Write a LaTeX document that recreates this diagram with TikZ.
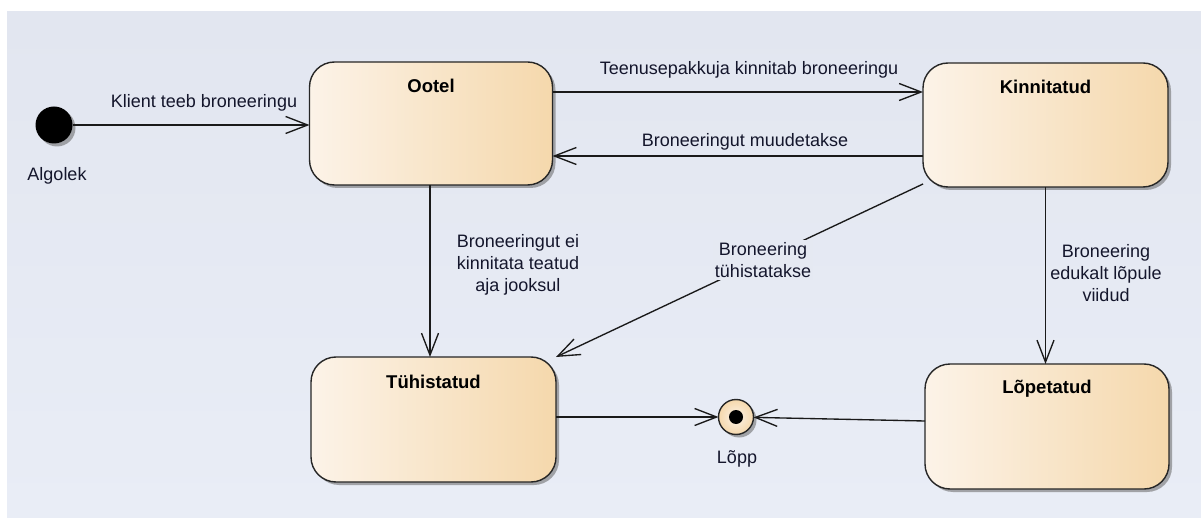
\documentclass[tikz,border=0pt]{standalone}
\usepackage{fontspec}
\setmainfont{Liberation Sans}
\usetikzlibrary{arrows.meta,shadows}
\definecolor{panelTop}{HTML}{E2E6F0}
\definecolor{panelBot}{HTML}{E9EDF6}
\definecolor{stateL}{HTML}{FCF3E8}
\definecolor{stateR}{HTML}{F5D8AC}
\definecolor{ink}{HTML}{14162C}
\definecolor{wire}{HTML}{1A1A1A}

\begin{document}
\begin{tikzpicture}[x=1pt,y=-1pt,
  font=\fontsize{18}{22}\selectfont,
  shade/.style={drop shadow={shadow xshift=3pt,shadow yshift=-3pt,fill=black!60,opacity=0.55}},
  state/.style={draw=black!85, line width=1.4pt, rounded corners=25pt,
    left color=stateL, right color=stateR, inner sep=0pt, outer sep=0pt, shade},
  title/.style={font=\fontsize{18.5}{22}\selectfont\bfseries, text=black},
  lbl/.style={text=ink, align=center, inner sep=0pt},
  tr/.style={draw=wire, line width=1.35pt,
    -{Straight Barb[length=22pt,width=17pt,line width=1.35pt]}},
]
\useasboundingbox (0,0) rectangle (1201,518);
\fill[white] (0,0) rectangle (1201,518);
\shade[top color=panelTop,bottom color=panelBot] (7,12) rectangle (1202,519);

% pseudo states
\node[circle, fill=black, minimum size=37pt, inner sep=0pt, outer sep=0pt, shade] (i) at (54,125) {};
\node[lbl] (il) at (57,176) {Algolek};

\node[circle, draw=black!85, line width=1.4pt, minimum size=35pt, inner sep=0pt, outer sep=0pt,
  inner color=stateL, outer color=stateR, shade] (e) at (736,417) {};
\node[circle, fill=black, minimum size=14pt, inner sep=0pt] (ed) at (e) {};
\node[lbl] (el) at (737,459) {Lõpp};

% states
\node[state, minimum width=243pt, minimum height=123pt] (o) at (431,123.5) {};
\node[title] at ([yshift=-24pt]o.north) {Ootel};
\node[state, minimum width=245pt, minimum height=124pt] (k) at (1045.5,125) {};
\node[title] at ([yshift=-24pt]k.north) {Kinnitatud};
\node[state, minimum width=245pt, minimum height=125pt] (t) at (433.5,419.5) {};
\node[title] at ([yshift=-25pt]t.north) {Tühistatud};
\node[state, minimum width=244pt, minimum height=125pt] (l) at (1047,426.5) {};
\node[title] at ([yshift=-25pt]l.north) {Lõpetatud};

% transitions
\draw[tr] (i) -- (o.west |- i);
\node[lbl] at (204,103) {Klient teeb broneeringu};

\draw[tr] (o.east |- 0,92) -- (k.west |- 0,92);
\node[lbl] at (749,70) {Teenusepakkuja kinnitab broneeringu};

\draw[tr] (k.west |- 0,156) -- (o.east |- 0,156);
\node[lbl] at (745,142) {Broneeringut muudetakse};

\draw[tr] (o.south -| 430,0) -- (t.north -| 430,0);
\node[lbl] at (518,265) {Broneeringut ei\\kinnitata teatud\\aja jooksul};

\draw[tr] ([yshift=3pt]k.south west) -- (t.north east);
\node[lbl, fill=panelTop!60!panelBot, inner sep=2pt] at (763,260) {Broneering\\tühistatakse};

\draw[tr] (k.south) -- (k.south |- l.north);
\node[lbl] at (1106,273) {Broneering\\edukalt lõpule\\viidud};

\draw[tr] (t.east |- e) -- (e);
\draw[tr] (l.west |- 0,421) -- (e);
\end{tikzpicture}
\end{document}
